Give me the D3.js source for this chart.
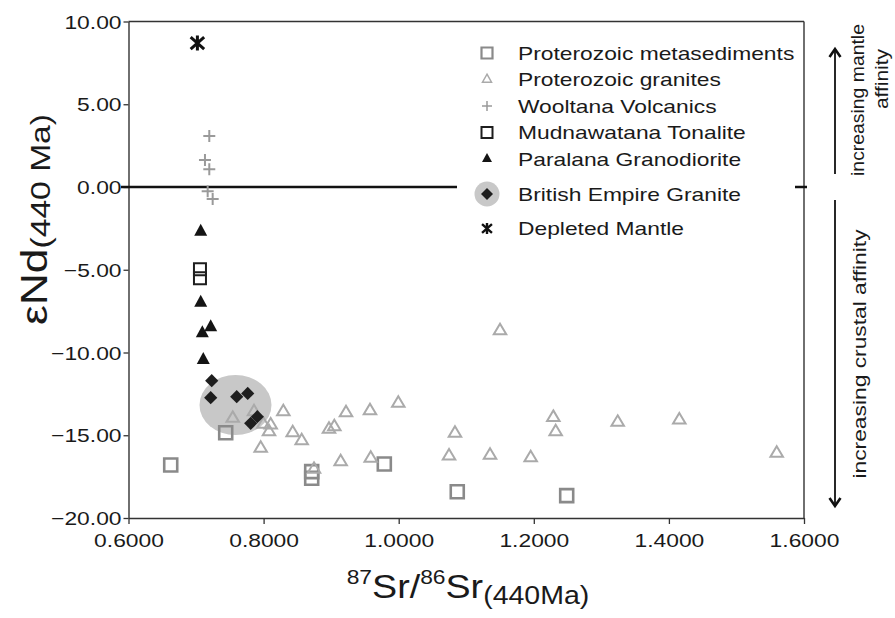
<!DOCTYPE html>
<html><head><meta charset="utf-8">
<script src="https://cdn.jsdelivr.net/npm/d3@7"></script>
<style>
body{margin:0;background:#fff}
svg{display:block}
text{font-family:"Liberation Sans",Arial,Helvetica,sans-serif;fill:#1a1a1a}
</style>
</head><body>
<svg id="c" width="895" height="618"></svg>
<script>
// ---- data (87Sr/86Sr, eNd) ----
const xTicks = [0.6, 0.8, 1.0, 1.2, 1.4, 1.6];
const yTicks = [-20, -15, -10, -5, 0, 5, 10];

const proterozoicMetasediments = [
  [0.6625,-16.80],[0.7439,-14.85],[0.8712,-17.20],[0.8712,-17.60],
  [0.9787,-16.74],[1.0867,-18.41],[1.2487,-18.65]
];
const proterozoicGranites = [
  [0.7543,-13.98],[0.7858,-13.58],[0.8292,-13.58],[0.7996,-14.34],[0.8105,-14.38],
  [0.8080,-14.79],[0.8431,-14.85],[0.8564,-15.33],[0.7957,-15.79],[0.8968,-14.64],
  [0.9047,-14.48],[0.9220,-13.64],[0.9575,-13.52],[0.9994,-13.07],[0.9141,-16.60],
  [0.9586,-16.39],[0.8746,-17.06],[1.0833,-14.88],[1.0745,-16.25],[1.1352,-16.21],
  [1.1954,-16.36],[1.1500,-8.68],[1.2289,-13.92],[1.2324,-14.79],[1.3242,-14.22],
  [1.4154,-14.08],[1.5596,-16.09]
];
const wooltanaVolcanics = [
  [0.7196,3.08],[0.7132,1.63],[0.7196,1.07],[0.7172,-0.25],[0.7246,-0.73]
];
const mudnawatanaTonalite = [[0.7058,-4.97],[0.7058,-5.52]];
const paralanaGranodiorite = [
  [0.7069,-2.70],[0.7069,-6.99],[0.7217,-8.48],[0.7093,-8.84],[0.7107,-10.45]
];
const britishEmpireGranite = [
  [0.7232,-11.70],[0.7217,-12.73],[0.7602,-12.67],[0.7765,-12.47],[0.7809,-14.28],[0.7907,-13.88]
];
const depletedMantle = [[0.702, 8.70]];
// grey field around the British Empire Granite: centre and half-axes (data units)
const begField = {cx: 0.7584, cy: -13.17, rx: 0.0533, ry: 1.81};

const legendLabels = ["Proterozoic metasediments","Proterozoic granites","Wooltana Volcanics",
  "Mudnawatana Tonalite","Paralana Granodiorite","British Empire Granite","Depleted Mantle"];
const yTitleMain = "εNd", yTitleSub = "(440 Ma)";
const sideTop = ["increasing mantle","affinity"], sideBottom = "increasing crustal affinity";

// ---- drawing ----
const svg = d3.select("#c");
const x = d3.scaleLinear().domain([0.6, 1.6]).range([128.5, 804]);
const y = d3.scaleLinear().domain([-20, 10]).range([518, 21.5]);
const FS = 19;

// grey field
svg.append("ellipse")
  .attr("cx", x(begField.cx)).attr("cy", y(begField.cy))
  .attr("rx", x(begField.cx + begField.rx) - x(begField.cx))
  .attr("ry", y(begField.cy - begField.ry) - y(begField.cy))
  .attr("fill", "#c8c8c8");

// axes
const xAxis = svg.append("g").attr("transform", `translate(0,${y(-20)})`)
  .call(d3.axisBottom(x).tickValues(xTicks).tickFormat(d3.format(".4f")).tickSize(6).tickSizeOuter(0).tickPadding(10));
const yAxis = svg.append("g").attr("transform", `translate(${x(0.6)},0)`)
  .call(d3.axisLeft(y).tickValues(yTicks).tickFormat(d3.format(".2f")).tickSize(5).tickSizeOuter(0).tickPadding(2));
[xAxis, yAxis].forEach(g => {
  g.attr("font-family", null).attr("font-size", null);
  g.select(".domain").attr("stroke", "#333").attr("stroke-width", 1.4);
  g.selectAll(".tick line").attr("stroke", "#333").attr("stroke-width", 1.3);
  g.selectAll(".tick text").attr("font-size", FS).attr("fill", "#1a1a1a");
});
yAxis.selectAll(".tick text").attr("dy", "0.35em");
// frame top & right
svg.append("line").attr("x1", x(0.6)).attr("x2", x(1.6)).attr("y1", y(10)).attr("y2", y(10))
  .attr("stroke", "#333").attr("stroke-width", 1.4);
svg.append("line").attr("x1", x(1.6)).attr("x2", x(1.6)).attr("y1", y(10)).attr("y2", y(-20))
  .attr("stroke", "#333").attr("stroke-width", 1.4);

// zero line
svg.append("line").attr("x1", x(0.6) - 7.5).attr("x2", x(1.6) + 3).attr("y1", y(0)).attr("y2", y(0))
  .attr("stroke", "#111").attr("stroke-width", 2.6);

// marker helpers
function sq(s){const h=s/2;return `M${-h},${-h}H${h}V${h}H${-h}Z`;}
function tri(w,h){return `M0,${-h*2/3}L${w/2},${h/3}L${-w/2},${h/3}Z`;}
function dia(r){return `M0,${-r}L${r},0L0,${r}L${-r},0Z`;}
function plus(s){const h=s/2;return `M${-h},0H${h}M0,${-h}V${h}`;}
function star(s){const h=s/2;return `M0,${-h}V${h}M${-h*0.9},${-h*0.8}L${h*0.9},${h*0.8}M${-h*0.9},${h*0.8}L${h*0.9},${-h*0.8}`;}

function plot(data, d, fill, stroke, sw){
  svg.append("g").selectAll("path").data(data).join("path")
    .attr("transform", p => `translate(${x(p[0])},${y(p[1])})`)
    .attr("d", d).attr("fill", fill).attr("stroke", stroke).attr("stroke-width", sw);
}
plot(proterozoicMetasediments, sq(13), "none", "#8a8a8a", 2.6);
plot(proterozoicGranites, tri(12.5,10.5), "none", "#aaaaaa", 2);
plot(wooltanaVolcanics, plus(12), "none", "#9a9a9a", 2);
plot(mudnawatanaTonalite, sq(12), "none", "#1e1e1e", 2);
plot(paralanaGranodiorite, tri(13,12), "#141414", "none", 0);
plot(britishEmpireGranite, dia(6.6), "#1e1e1e", "none", 0);
plot(depletedMantle, star(15), "none", "#111", 3);

// legend
const lg = svg.append("g");
lg.append("rect").attr("x", 457).attr("y", 33).attr("width", 338).attr("height", 215).attr("fill", "#fff");
const rows = [53, 79.5, 106, 132.5, 159, 194, 228.5];
const lm = [
  g => g.append("path").attr("d", sq(11)).attr("fill","none").attr("stroke","#8a8a8a").attr("stroke-width",2.2),
  g => g.append("path").attr("d", tri(9,8)).attr("fill","none").attr("stroke","#aaaaaa").attr("stroke-width",1.5),
  g => g.append("path").attr("d", plus(10)).attr("fill","none").attr("stroke","#9a9a9a").attr("stroke-width",1.5),
  g => g.append("path").attr("d", sq(11)).attr("fill","none").attr("stroke","#1e1e1e").attr("stroke-width",2),
  g => g.append("path").attr("d", tri(10,9)).attr("fill","#141414"),
  g => { g.append("circle").attr("r", 12.5).attr("fill", "#c8c8c8"); g.append("path").attr("d", dia(6)).attr("fill", "#1e1e1e"); },
  g => g.append("path").attr("d", star(11)).attr("fill","none").attr("stroke","#111").attr("stroke-width",2.4)
];
legendLabels.forEach((t, i) => {
  const g = lg.append("g").attr("transform", `translate(487,${rows[i]})`);
  lm[i](g);
  lg.append("text").attr("x", 518).attr("y", rows[i] + 6.5).attr("font-size", FS).text(t);
});

// y title
const yt = svg.append("text").attr("transform", "translate(47,325) rotate(-90)").attr("text-anchor", "start");
yt.append("tspan").attr("font-size", 37).text(yTitleMain);
yt.append("tspan").attr("font-size", 28).attr("dy", 3).text(yTitleSub);

// x title
const xt = svg.append("text").attr("x", 468).attr("y", 598).attr("text-anchor", "middle").attr("data-k", 1.14);
xt.append("tspan").attr("font-size", 20).attr("dy", -14).text("87");
xt.append("tspan").attr("font-size", 33).attr("dy", 14).text("Sr/");
xt.append("tspan").attr("font-size", 20).attr("dy", -14).text("86");
xt.append("tspan").attr("font-size", 33).attr("dy", 14).text("Sr");
xt.append("tspan").attr("font-size", 25).attr("dy", 6).text("(440Ma)");

// side annotations
const ax = 835;
const arr = svg.append("g").attr("stroke", "#111").attr("stroke-width", 1.8).attr("fill", "none");
arr.append("line").attr("x1", ax).attr("x2", ax).attr("y1", 174).attr("y2", 49);
arr.append("path").attr("d", `M${ax-5.5},${57}L${ax},${49}L${ax+5.5},${57}`).attr("stroke-width", 2.6);
arr.append("line").attr("x1", ax).attr("x2", ax).attr("y1", 200).attr("y2", 506);
arr.append("path").attr("d", `M${ax-5.5},${498}L${ax},${506}L${ax+5.5},${498}`).attr("stroke-width", 2.6);

svg.append("text").attr("transform", "translate(864,100) rotate(-90)").attr("text-anchor", "middle")
  .attr("data-k", 1.02).attr("font-size", FS).text(sideTop[0]);
svg.append("text").attr("transform", "translate(888,79) rotate(-90)").attr("text-anchor", "middle")
  .attr("data-k", 1.1).attr("font-size", FS).text(sideTop[1]);
svg.append("text").attr("transform", "translate(866,354) rotate(-90)").attr("text-anchor", "middle")
  .attr("font-size", FS).text(sideBottom);

// widen glyphs to match the reference's broad sans-serif
svg.selectAll("text").each(function(){
  const k = +(this.getAttribute("data-k") || 1.2);
  const L = this.getComputedTextLength();
  this.setAttribute("textLength", (L * k).toFixed(1));
  this.setAttribute("lengthAdjust", "spacingAndGlyphs");
});
</script>
</body></html>
